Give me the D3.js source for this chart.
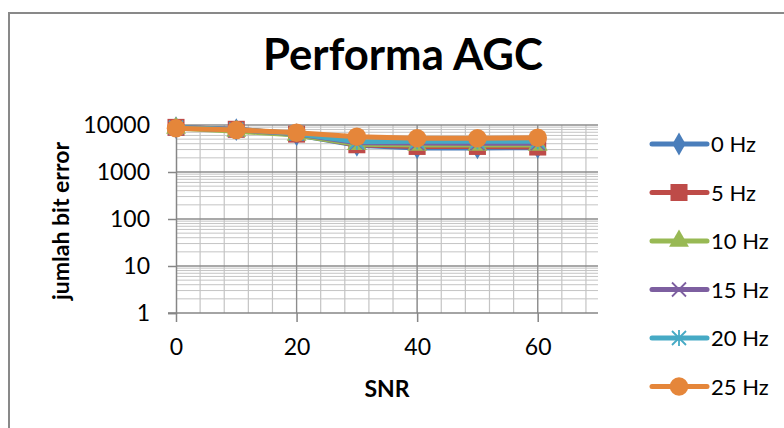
<!DOCTYPE html>
<html>
<head>
<meta charset="utf-8">
<script src="https://cdn.jsdelivr.net/npm/d3@7"></script>
<style>
  body { margin: 0; background: #fff; }
  text { font-family: Lato, "Open Sans", sans-serif; fill: #000; }
</style>
</head>
<body>
<div id="wrapper"></div>
<script>
// data
const snr = [0, 10, 20, 30, 40, 50, 60];
const seriesNames = ["0 Hz", "5 Hz", "10 Hz", "15 Hz", "20 Hz", "25 Hz"];
const hz0  = [8800, 8000, 6200, 3700, 3250, 3250, 3300];
const hz5  = [8900, 8100, 6400, 3800, 3500, 3500, 3400];
const hz10 = [8600, 7400, 6100, 3900, 3750, 3750, 3750];
const hz15 = [8700, 7900, 6500, 4200, 4140, 4100, 4100];
const hz20 = [8800, 8000, 6600, 4400, 4500, 4500, 4500];
const hz25 = [8500, 7830, 6870, 5650, 5210, 5200, 5370];
const yTicks = [1, 10, 100, 1000, 10000];
const xTicks = [0, 20, 40, 60];

const colors = ["#4A7EBB", "#BE4B48", "#98B954", "#7D5FA0", "#46AAC5", "#E5863A"];
const markers = ["diamond", "square", "triangle", "cross", "star", "circle"];
const allSeries = [hz0, hz5, hz10, hz15, hz20, hz25];

const width = 784, height = 428;

const svg = d3.select("#wrapper").append("svg")
  .attr("width", width)
  .attr("height", height);

// outer chart border
svg.append("rect")
  .attr("x", 9).attr("y", 13)
  .attr("width", 790).attr("height", 430)
  .attr("fill", "#fff")
  .attr("stroke", "#898989")
  .attr("stroke-width", 2);

// scales
const x = d3.scaleLinear().domain([0, 70]).range([176, 598]);
const y = d3.scaleLog().domain([1, 10000]).range([313, 125]);

// grid
const grid = svg.append("g");
const minorY = [];
for (let d = 1; d < 10000; d *= 10)
  for (let k = 2; k <= 9; k++) minorY.push(d * k);

grid.selectAll(".minor-y").data(minorY).enter().append("line")
  .attr("x1", x(0)).attr("x2", x(70))
  .attr("y1", d => y(d)).attr("y2", d => y(d))
  .attr("stroke", "#c4c4c4").attr("stroke-width", 1);

grid.selectAll(".minor-x").data(d3.range(4, 70, 4)).enter().append("line")
  .attr("x1", d => x(d)).attr("x2", d => x(d))
  .attr("y1", y(10000)).attr("y2", y(1))
  .attr("stroke", "#c4c4c4").attr("stroke-width", 1.2);

grid.selectAll(".major-y").data(yTicks.slice(1)).enter().append("line")
  .attr("x1", x(0)).attr("x2", x(70))
  .attr("y1", d => y(d)).attr("y2", d => y(d))
  .attr("stroke", "#8c8c8c").attr("stroke-width", 1.3);

grid.selectAll(".major-x").data(xTicks.slice(1)).enter().append("line")
  .attr("x1", d => x(d)).attr("x2", d => x(d))
  .attr("y1", y(10000)).attr("y2", y(1))
  .attr("stroke", "#8c8c8c").attr("stroke-width", 1.3);

// axes
const yAxis = svg.append("g")
  .attr("transform", `translate(${x(0)},0)`)
  .call(d3.axisLeft(y).tickValues(yTicks).tickFormat(d3.format("d")).tickSize(8).tickPadding(18));
const xAxis = svg.append("g")
  .attr("transform", `translate(0,${y(1)})`)
  .call(d3.axisBottom(x).tickValues(xTicks).tickSize(9).tickPadding(17));

[yAxis, xAxis].forEach(a => {
  a.select(".domain").attr("stroke", "#868686").attr("stroke-width", 1.5);
  a.selectAll(".tick line").attr("stroke", "#868686").attr("stroke-width", 1.5);
  a.selectAll(".tick text").style("font-size", "23px").style("font-family", "Lato, sans-serif").attr("fill", "#000");
});
xAxis.select(".domain").attr("d", `M${x(0) - 8},0H${x(70)}`);

// marker shapes
function markerPath(type) {
  const s = {
    diamond: d3.symbol(d3.symbolDiamond, 150),
    square: d3.symbol(d3.symbolSquare, 290),
    triangle: d3.symbol(d3.symbolTriangle, 170),
    circle: d3.symbol(d3.symbolCircle, 270)
  };
  if (s[type]) return s[type]();
  if (type === "cross") return "M-7,-7L7,7M-7,7L7,-7";
  return "M-7,-7L7,7M-7,7L7,-7M0,-8V8";
}

function drawMarker(g, type, color) {
  const p = g.append("path").attr("d", markerPath(type));
  if (type === "cross" || type === "star")
    p.attr("fill", "none").attr("stroke", color).attr("stroke-width", 1.8);
  else
    p.attr("fill", color);
}

// lines
const line = d3.line().x((d, i) => x(snr[i])).y(d => y(d));
allSeries.forEach((vals, si) => {
  const g = svg.append("g");
  g.append("path")
    .attr("d", line(vals))
    .attr("fill", "none")
    .attr("stroke", colors[si])
    .attr("stroke-width", 5)
    .attr("stroke-linejoin", "round")
    .attr("stroke-linecap", "round");
  vals.forEach((v, i) => {
    const m = g.append("g").attr("transform", `translate(${x(snr[i])},${y(v)})`);
    drawMarker(m, markers[si], colors[si]);
  });
});

// title
const title = svg.append("text")
  .attr("x", 403).attr("y", 70)
  .attr("text-anchor", "middle")
  .style("font-size", "36px").style("font-weight", "bold")
  .text("Performa AGC");
const tl = title.node().getComputedTextLength();
title.style("font-size", (36 * 280 / tl) + "px");

// axis titles
svg.append("text")
  .attr("x", 387).attr("y", 397)
  .attr("text-anchor", "middle")
  .style("font-size", "23px").style("font-weight", "bold")
  .text("SNR");

svg.append("text")
  .attr("transform", "translate(69,221) rotate(-90)")
  .attr("text-anchor", "middle")
  .style("font-size", "23px").style("font-weight", "bold")
  .text("jumlah bit error");

// legend
const legend = svg.selectAll(".legend").data(seriesNames).enter().append("g")
  .attr("transform", (d, i) => `translate(652,${144 + i * 48.5})`);
legend.append("line")
  .attr("x1", 0).attr("x2", 55)
  .attr("stroke", (d, i) => colors[i])
  .attr("stroke-width", 5)
  .attr("stroke-linecap", "round");
legend.each(function(d, i) {
  const m = d3.select(this).append("g").attr("transform", "translate(27,0)");
  drawMarker(m, markers[i], colors[i]);
});
legend.append("text")
  .attr("x", 59).attr("y", 8)
  .style("font-size", "22px")
  .text(d => d);
</script>
</body>
</html>
